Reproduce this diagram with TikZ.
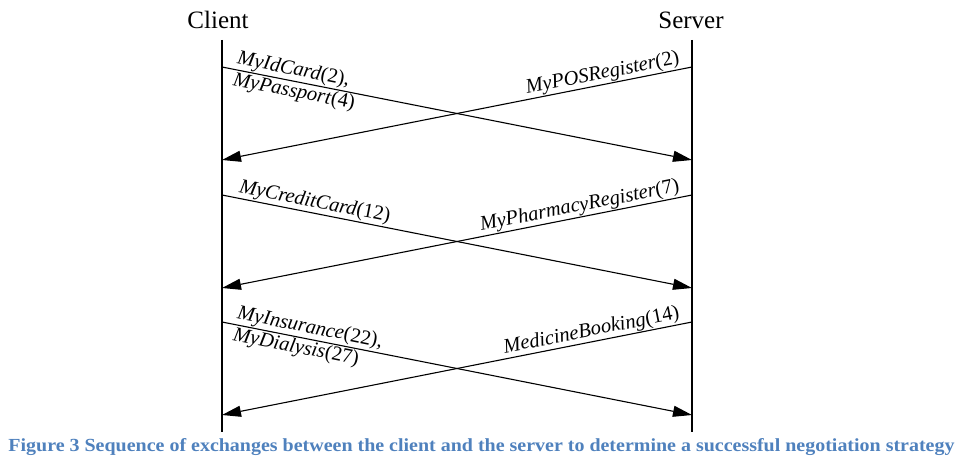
\documentclass[tikz,border=0pt]{standalone}
\usepackage{fontspec}
\setmainfont{Liberation Serif}
\usepackage{tikz}
\usetikzlibrary{
  calc,
  positioning,
  arrows.meta
}
\definecolor{captionblue}{RGB}{79,129,189}

\begin{document}
\begin{tikzpicture}[x=1pt,y=1pt,
		life/.style={line width=1.7pt},
		msg/.style={line width=1.1pt,-{Triangle[length=19pt,width=11pt]}},
		who/.style={rectangle,inner sep=0pt,font=\fontsize{25}{28}\selectfont},
		lbl/.style={sloped,inner sep=0.8pt,align=left,font=\fontsize{20.5}{22}\selectfont\itshape}]
		\useasboundingbox (0,0) rectangle (963,-460);
		\node[who] (1) at (218,-20) {Client};
		\node[who] (2) at (691,-20) {Server};
		\coordinate (3) at (222,-40);
		\coordinate (4) at (222,-432);
		\coordinate (5) at (692,-40);
		\coordinate (6) at (692,-432);
		\draw [life] (3) -- (4);
		\draw [life] (5) -- (6);

		\coordinate (7) at (222,-67);
		\coordinate (8) at (692,-160);
		\coordinate (9) at (692,-67);
		\coordinate (10) at (222,-160);
		\coordinate (11) at (222,-195);
		\coordinate (12) at (692,-288);
		\coordinate (13) at (692,-195);
		\coordinate (14) at (222,-288);
		\coordinate (15) at (222,-322);
		\coordinate (16) at (692,-415);
		\coordinate (17) at (692,-322);
		\coordinate (18) at (222,-415);

		\draw [msg] (7) -- (8)
			node[lbl,anchor=west,pos=0.026] {MyIdCard\textup{(2),}\\MyPassport\textup{(4)}};
		\draw [msg] (9) -- (10)
			node[lbl,anchor=south east,pos=0.02] {MyPOSRegister\textup{(2)}};
		\draw [msg] (11) -- (12)
			node[lbl,anchor=south west,pos=0.03] {MyCreditCard\textup{(12)}};
		\draw [msg] (13) -- (14)
			node[lbl,anchor=south east,pos=0.02] {MyPharmacyRegister\textup{(7)}};
		\draw [msg] (15) -- (16)
			node[lbl,anchor=west,pos=0.026] {MyInsurance\textup{(22),}\\MyDialysis\textup{(27)}};
		\draw [msg] (17) -- (18)
			node[lbl,anchor=south east,pos=0.02] {MedicineBooking\textup{(14)}};

		\node[rectangle,inner sep=0pt,anchor=base,text=captionblue] (19) at (481.5,-451)
			{\resizebox{946pt}{13pt}{\bfseries Figure 3 Sequence of exchanges between the client and the server to determine a successful negotiation strategy}};
	\end{tikzpicture}
\end{document}
